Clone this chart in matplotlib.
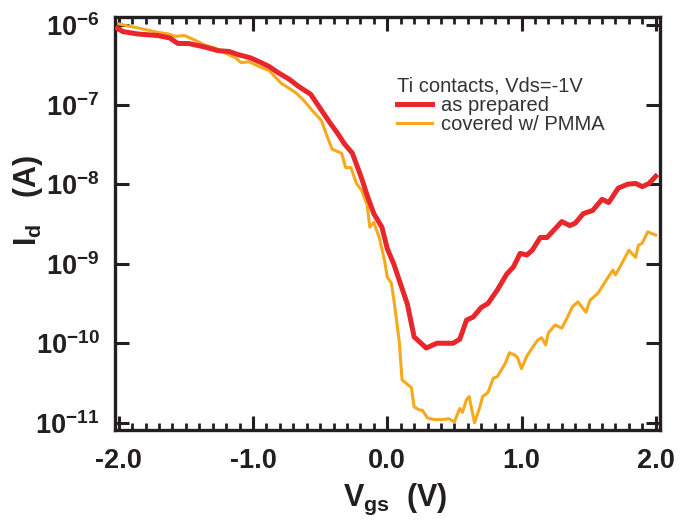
import matplotlib
import matplotlib.pyplot as plt
import numpy as np
from matplotlib.ticker import MultipleLocator, NullLocator, FormatStrFormatter

matplotlib.use("Agg")

# Gate voltage (V) and log10 of drain current (A)
red_vgs = [-2.01, -1.97, -1.86, -1.71, -1.62, -1.56, -1.48, -1.37, -1.26, -1.18,
           -1.11, -1.02, -0.94, -0.88, -0.81, -0.73, -0.66, -0.57, -0.49, -0.43,
           -0.37, -0.32, -0.26, -0.19, -0.15, -0.10, -0.04, 0.00, 0.05, 0.10,
           0.15, 0.20, 0.29, 0.37, 0.49, 0.54, 0.59, 0.64, 0.70, 0.75,
           0.82, 0.89, 0.94, 0.99, 1.04, 1.08, 1.14, 1.19, 1.30, 1.36,
           1.40, 1.46, 1.53, 1.60, 1.65, 1.72, 1.79, 1.85, 1.90, 1.95, 2.00]
red_log_id = [-6.04, -6.08, -6.11, -6.13, -6.16, -6.23, -6.23, -6.27, -6.32, -6.33,
              -6.37, -6.41, -6.47, -6.52, -6.60, -6.68, -6.77, -6.87, -7.07, -7.22,
              -7.36, -7.49, -7.61, -7.93, -8.14, -8.37, -8.54, -8.81, -9.01, -9.26,
              -9.51, -9.92, -10.06, -10.00, -10.00, -9.95, -9.71, -9.67, -9.55, -9.50,
              -9.33, -9.13, -9.04, -8.87, -8.89, -8.83, -8.67, -8.67, -8.47, -8.52,
              -8.49, -8.37, -8.33, -8.19, -8.23, -8.05, -8.00, -7.99, -8.03, -7.99, -7.90]

orange_vgs = [-2.01, -1.93, -1.84, -1.71, -1.63, -1.58, -1.51, -1.43, -1.36, -1.28,
              -1.21, -1.13, -1.09, -1.03, -0.94, -0.88, -0.83, -0.79, -0.68, -0.62,
              -0.57, -0.49, -0.45, -0.41, -0.34, -0.31, -0.27, -0.23, -0.19, -0.15,
              -0.13, -0.10, -0.06, -0.02, 0.00, 0.03, 0.05, 0.09, 0.11, 0.18,
              0.20, 0.24, 0.26, 0.30, 0.35, 0.41, 0.46, 0.50, 0.54, 0.56,
              0.59, 0.61, 0.65, 0.69, 0.71, 0.75, 0.79, 0.82, 0.88, 0.91,
              0.95, 0.97, 1.00, 1.04, 1.12, 1.15, 1.18, 1.20, 1.25, 1.30,
              1.34, 1.38, 1.42, 1.48, 1.51, 1.57, 1.63, 1.68, 1.70, 1.74,
              1.80, 1.85, 1.87, 1.90, 1.94, 2.00]
orange_log_id = [-5.98, -6.01, -6.04, -6.09, -6.11, -6.14, -6.13, -6.19, -6.25, -6.29,
                 -6.35, -6.41, -6.47, -6.46, -6.53, -6.57, -6.66, -6.73, -6.85, -6.95,
                 -7.05, -7.20, -7.39, -7.56, -7.61, -7.79, -7.79, -7.99, -8.08, -8.26,
                 -8.54, -8.48, -8.67, -8.96, -9.17, -9.24, -9.46, -9.99, -10.46, -10.56,
                 -10.80, -10.84, -10.84, -10.94, -10.96, -10.96, -10.95, -10.99, -10.82, -10.87,
                 -10.71, -10.67, -11.00, -10.80, -10.67, -10.62, -10.44, -10.42, -10.25, -10.12,
                 -10.15, -10.18, -10.32, -10.16, -9.96, -9.93, -10.02, -9.87, -9.77, -9.81,
                 -9.68, -9.54, -9.48, -9.61, -9.46, -9.37, -9.21, -9.08, -9.14, -9.02,
                 -8.83, -8.92, -8.77, -8.74, -8.60, -8.64]

y_decades = [-11, -10, -9, -8, -7, -6]
legend_title = "Ti contacts, Vds=-1V"
labels = ["as prepared", "covered w/ PMMA"]

plt.rcParams["font.family"] = ["Liberation Sans", "DejaVu Sans"]
plt.rcParams["mathtext.fontset"] = "custom"
plt.rcParams["mathtext.rm"] = "Liberation Sans:bold"
plt.rcParams["mathtext.it"] = "Liberation Sans:bold"
plt.rcParams["mathtext.bf"] = "Liberation Sans:bold"
plt.rcParams["mathtext.default"] = "regular"

ink = "#231f20"

fig = plt.figure(figsize=(6.83, 5.23), dpi=100)
ax = fig.add_axes([0.168, 0.178, 0.798, 0.789])

red_id = 10 ** np.array(red_log_id)
orange_id = 10 ** np.array(orange_log_id)

ax.plot(red_vgs, red_id, color="#e8262b", lw=3.6, solid_joinstyle="round",
        label=labels[0], zorder=3)
ax.plot(orange_vgs, orange_id, color="#f7a91d", lw=2.2, solid_joinstyle="round",
        label=labels[1], zorder=2)

ax.set_yscale("log")
ax.set_xlim(-2.03, 2.03)
ax.set_ylim(10 ** -11.09, 10 ** -5.9)

ax.xaxis.set_major_locator(MultipleLocator(1.0))
ax.xaxis.set_minor_locator(MultipleLocator(0.1))
ax.xaxis.set_major_formatter(FormatStrFormatter("%.1f"))
ax.set_yticks([10.0 ** d for d in y_decades])
ax.set_yticklabels([rf"$\mathdefault{{10^{{{d}}}}}$" for d in y_decades])
ax.yaxis.set_minor_locator(NullLocator())

for side in ["left", "right", "top", "bottom"]:
    ax.spines[side].set_linewidth(2.4)
    ax.spines[side].set_color(ink)

ax.tick_params(axis="both", which="major", direction="in", length=10, width=2.2,
               colors=ink, top=True, right=True, labelsize=19.5)
ax.tick_params(axis="x", which="minor", direction="in", length=5, width=2.0,
               colors=ink, top=True)
ax.tick_params(axis="x", which="major", pad=13)
ax.tick_params(axis="y", which="major", pad=11)
for lab in ax.get_xticklabels() + ax.get_yticklabels():
    lab.set_fontweight("bold")

ax.set_xlabel(r"V$_{gs}$  (V)", fontsize=22, fontweight="bold", color=ink)
ax.set_ylabel(r"I$_{d}$   (A)", fontsize=22, fontweight="bold", color=ink)
ax.xaxis.set_label_coords(0.515, -0.125)
ax.yaxis.set_label_coords(-0.128, 0.555)

leg = ax.legend(title=legend_title, loc="upper left", bbox_to_anchor=(0.518, 0.857),
                frameon=False, fontsize=14.5, title_fontsize=14.5, handlelength=1.75,
                handletextpad=0.45, borderaxespad=0, borderpad=0, labelspacing=0.03)
leg._legend_box.align = "left"
for t in leg.get_texts():
    t.set_color("#333333")
leg.get_title().set_color("#333333")

plt.savefig("out.png", dpi=100)
plt.close()
